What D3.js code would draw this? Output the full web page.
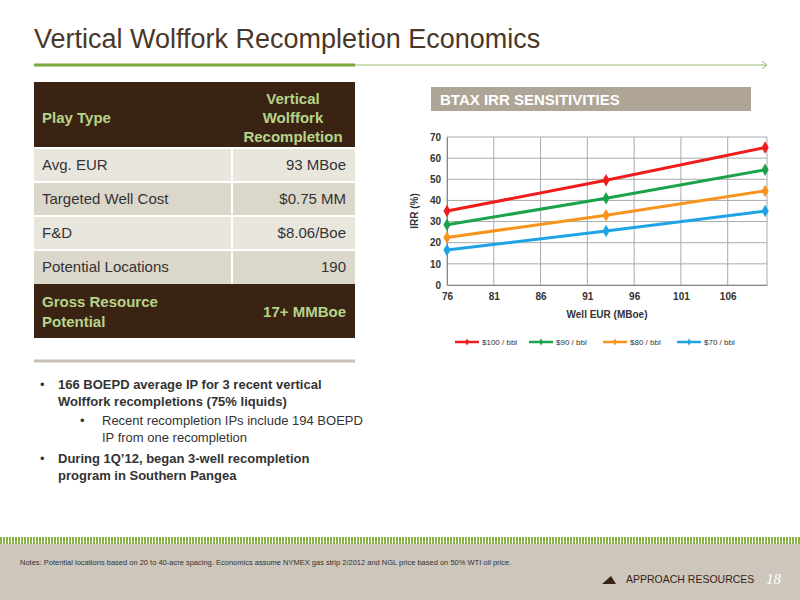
<!DOCTYPE html><html><head><meta charset="utf-8"><script src="https://cdn.jsdelivr.net/npm/d3@7"></script>
<style>body{margin:0;font-family:"Liberation Sans",Arial,sans-serif}</style></head><body><svg id="s" width="800" height="600"></svg>
<script>
const eur=[76,93,110];
const seriesNames=["$100 / bbl","$90 / bbl","$80 / bbl","$70 / bbl"];
const seriesColors=["#ee1c1c","#1aa34a","#f7941d","#1ea4e4"];
const irr100=[35,49.5,65], irr90=[28.5,41,54.5], irr80=[22.5,33,44.5], irr70=[16.5,25.5,35];
const xTicks=[76,81,86,91,96,101,106], yTicks=[0,10,20,30,40,50,60,70];
const tableRows=[["Avg. EUR","93 MBoe"],["Targeted Well Cost","$0.75 MM"],["F&D","$8.06/Boe"],["Potential Locations","190"]];
const svg=d3.select("#s");
svg.append("text").attr("x",34).attr("y",48).attr("font-size",27).attr("fill","#4a3728").text("Vertical Wolffork Recompletion Economics");
svg.append("line").attr("x1",34).attr("x2",355).attr("y1",65).attr("y2",65).attr("stroke","#7aa63a").attr("stroke-width",3);
svg.append("line").attr("x1",355).attr("x2",766).attr("y1",65).attr("y2",65).attr("stroke","#9ab86a").attr("stroke-width",1);
svg.append("path").attr("d","M762,61 L767,65 L762,69").attr("fill","none").attr("stroke","#9ab86a");
// table
const tx=34,tw=321;
svg.append("rect").attr("x",tx).attr("y",82).attr("width",tw).attr("height",66).attr("fill","#3b2314");
svg.append("text").attr("x",42).attr("y",123).attr("fill","#b5d48a").attr("font-weight","bold").attr("font-size",15).text("Play Type");
["Vertical","Wolffork","Recompletion"].forEach((t,i)=>svg.append("text").attr("x",293).attr("y",104+i*19).attr("text-anchor","middle").attr("fill","#b5d48a").attr("font-weight","bold").attr("font-size",15).text(t));
tableRows.forEach((r,i)=>{const y=148+i*34;
 svg.append("rect").attr("x",tx).attr("y",y).attr("width",tw).attr("height",34).attr("fill",i%2?"#dcd7cb":"#e9e6de");
 svg.append("line").attr("x1",tx).attr("x2",tx+tw).attr("y1",y).attr("y2",y).attr("stroke","#fff").attr("stroke-width",2);
 svg.append("line").attr("x1",232).attr("x2",232).attr("y1",y).attr("y2",y+34).attr("stroke","#fff").attr("stroke-width",2);
 svg.append("text").attr("x",42).attr("y",y+22).attr("font-size",15).attr("fill","#333").text(r[0]);
 svg.append("text").attr("x",346).attr("y",y+22).attr("text-anchor","end").attr("font-size",15).attr("fill","#333").text(r[1]);});
svg.append("rect").attr("x",tx).attr("y",284).attr("width",tw).attr("height",54).attr("fill","#3b2314");
svg.append("text").attr("x",42).attr("y",307).attr("fill","#b5d48a").attr("font-weight","bold").attr("font-size",15).text("Gross Resource");
svg.append("text").attr("x",42).attr("y",327).attr("fill","#b5d48a").attr("font-weight","bold").attr("font-size",15).text("Potential");
svg.append("text").attr("x",346).attr("y",317).attr("text-anchor","end").attr("fill","#b5d48a").attr("font-weight","bold").attr("font-size",15).text("17+ MMBoe");
svg.append("line").attr("x1",34).attr("x2",355).attr("y1",361).attr("y2",361).attr("stroke","#c8c2b4").attr("stroke-width",3);
// bullets
const bl=[[40,58,389,"166 BOEPD average IP for 3 recent vertical",true],[null,58,406,"Wolffork recompletions (75% liquids)",true],[80,102,425,"Recent recompletion IPs include 194 BOEPD",false],[null,102,442,"IP from one recompletion",false],[40,58,463,"During 1Q’12, began 3-well recompletion",true],[null,58,480,"program in Southern Pangea",true]];
bl.forEach(b=>{if(b[0]!==null)svg.append("text").attr("x",b[0]).attr("y",b[2]).attr("font-size",13).attr("fill","#333").text("•");
 svg.append("text").attr("x",b[1]).attr("y",b[2]).attr("font-size",13).attr("fill","#333").attr("font-weight",b[4]?"bold":"normal").text(b[3]);});
// footer
const g0=svg.append("g");
for(let x=0;x<800;x+=3)g0.append("rect").attr("x",x).attr("y",537).attr("width",2).attr("height",7).attr("fill","#8cb24a");
svg.append("rect").attr("x",0).attr("y",544).attr("width",800).attr("height",56).attr("fill","#ccc6bc");
svg.append("text").attr("x",20).attr("y",565).attr("font-size",7.5).attr("fill","#333").text("Notes: Potential locations based on 20 to 40-acre spacing.  Economics assume NYMEX gas strip 2/2012 and NGL price based on 50% WTI oil price.");
svg.append("path").attr("d","M602,584 L611,576 L616,584Z").attr("fill","#3b2314");
svg.append("text").attr("x",626).attr("y",583).attr("font-size",10.5).attr("fill","#3b2314").text("APPROACH RESOURCES");
svg.append("text").attr("x",766).attr("y",584).attr("font-size",15).attr("font-style","italic").attr("fill","#fff").attr("font-family","Liberation Serif").text("18");
// chart
svg.append("rect").attr("x",431).attr("y",87).attr("width",320).attr("height",24).attr("fill","#aea596");
svg.append("text").attr("x",440).attr("y",105).attr("font-size",15).attr("font-weight","bold").attr("fill","#fff").text("BTAX IRR SENSITIVITIES");
const x=d3.scaleLinear().domain([76,110.2]).range([447,767]);
const y=d3.scaleLinear().domain([0,70]).range([285,137]);
const ch=svg.append("g");
ch.selectAll(".gx").data(xTicks.concat([110.2])).join("line").attr("x1",d=>x(d)).attr("x2",d=>x(d)).attr("y1",137).attr("y2",285).attr("stroke","#aaa");
ch.selectAll(".gy").data(yTicks).join("line").attr("x1",447).attr("x2",767).attr("y1",d=>y(d)).attr("y2",d=>y(d)).attr("stroke","#aaa");
ch.append("g").attr("transform","translate(0,285)").call(d3.axisBottom(x).tickValues(xTicks).tickSize(0).tickPadding(8)).call(g=>{g.select(".domain").attr("stroke","#888");g.selectAll("text").attr("font-size",10).attr("font-weight","bold").attr("fill","#333").attr("font-family","Liberation Sans");});
ch.append("g").attr("transform","translate(447,0)").call(d3.axisLeft(y).tickValues(yTicks).tickSize(0).tickPadding(6)).call(g=>{g.select(".domain").attr("stroke","#888");g.selectAll("text").attr("font-size",10).attr("font-weight","bold").attr("fill","#333").attr("font-family","Liberation Sans");});
ch.append("text").attr("x",607).attr("y",318).attr("text-anchor","middle").attr("font-size",10).attr("font-weight","bold").attr("fill","#333").text("Well EUR (MBoe)");
ch.append("text").attr("transform","translate(418,211) rotate(-90)").attr("text-anchor","middle").attr("font-size",10).attr("font-weight","bold").attr("fill","#333").text("IRR (%)");
const all=[irr100,irr90,irr80,irr70];
const line=d3.line().x((d,i)=>x(eur[i])).y(d=>y(d));
all.forEach((s,k)=>{ch.append("path").attr("d",line(s)).attr("fill","none").attr("stroke",seriesColors[k]).attr("stroke-width",3);
 s.forEach((v,i)=>ch.append("path").attr("d",d3.symbol(d3.symbolDiamond,45)()).attr("transform",`translate(${x(eur[i])},${y(v)})`).attr("fill",seriesColors[k]));});
seriesNames.forEach((n,k)=>{const lx=455+k*74;
 ch.append("line").attr("x1",lx).attr("x2",lx+24).attr("y1",342).attr("y2",342).attr("stroke",seriesColors[k]).attr("stroke-width",2.5);
 ch.append("path").attr("d",d3.symbol(d3.symbolDiamond,14)()).attr("transform",`translate(${lx+12},342)`).attr("fill",seriesColors[k]);
 ch.append("text").attr("x",lx+27).attr("y",345).attr("font-size",8).attr("fill","#333").text(n);});
</script></body></html>
